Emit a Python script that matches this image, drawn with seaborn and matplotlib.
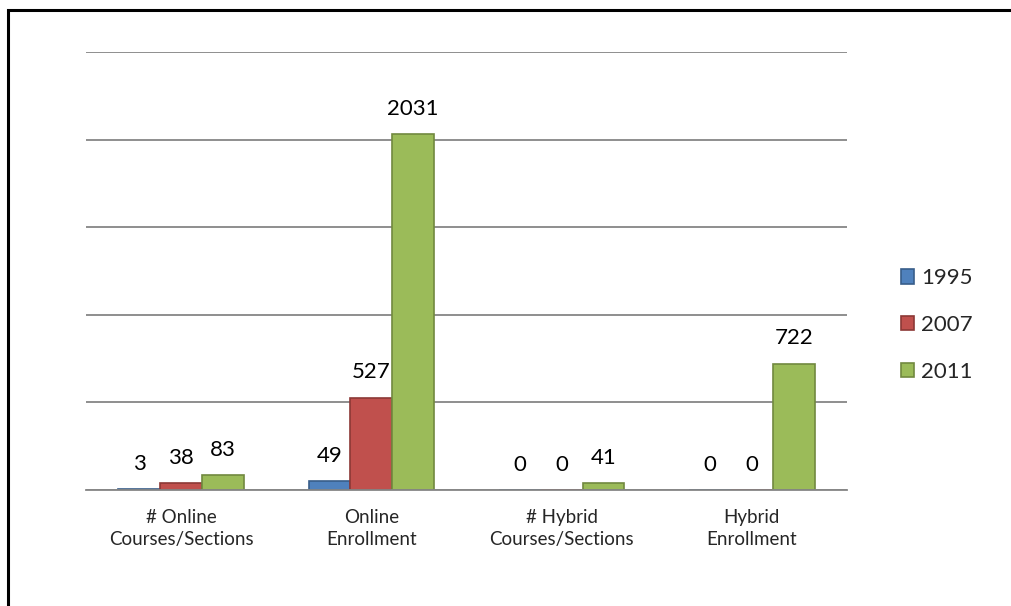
import matplotlib
matplotlib.use("Agg")
import matplotlib.pyplot as plt
import seaborn as sns
import pandas as pd
from matplotlib.patches import Rectangle, Patch

categories = ["# Online\nCourses/Sections", "Online\nEnrollment",
              "# Hybrid\nCourses/Sections", "Hybrid\nEnrollment"]
years = ["1995", "2007", "2011"]
values_1995 = [3, 49, 0, 0]
values_2007 = [38, 527, 0, 0]
values_2011 = [83, 2031, 41, 722]

fills = ["#4F81BD", "#C0504D", "#9BBB59"]
edges = ["#385D8A", "#8C3836", "#71893F"]

rows = []
for year, vals in zip(years, [values_1995, values_2007, values_2011]):
    for cat, v in zip(categories, vals):
        rows.append({"category": cat, "year": year, "value": v})
df = pd.DataFrame(rows)

sns.set_theme(style="white")
plt.rcParams["font.family"] = ["Lato", "DejaVu Sans"]

fig = plt.figure(figsize=(10.11, 6.06), dpi=100)
ax = fig.add_axes([86 / 1011, 1 - 490 / 606, (847 - 86) / 1011, (490 - 52) / 606])

sns.barplot(data=df, x="category", y="value", hue="year", hue_order=years,
            palette=fills, width=0.66, ax=ax, legend=False, saturation=1)

# per-series edge colours and value labels
for container, ec in zip(ax.containers, edges):
    for bar in container:
        bar.set_edgecolor(ec)
        bar.set_linewidth(1.2)
    ax.bar_label(container, labels=[f"{int(b.get_height())}" for b in container],
                 padding=11, fontsize=16, color="black")

ax.set_ylim(0, 2500)
ax.set_xlim(-0.5, 3.5)
ax.set_yticks([0, 500, 1000, 1500, 2000, 2500])
ax.yaxis.grid(True, color="#868686", linewidth=1.3)
ax.set_axisbelow(True)
ax.tick_params(axis="y", left=False, labelleft=False)
ax.tick_params(axis="x", bottom=False, labelsize=13.5, pad=8)
for lbl in ax.get_xticklabels():
    lbl.set_linespacing(1.3)
for s in ["top", "right", "left"]:
    ax.spines[s].set_visible(False)
ax.spines["bottom"].set_color("#868686")
ax.spines["bottom"].set_linewidth(1.3)
ax.set_xlabel("")
ax.set_ylabel("")

handles = [Patch(facecolor=f, edgecolor=e, linewidth=1.2) for f, e in zip(fills, edges)]
fig.legend(handles, years, loc="center left", bbox_to_anchor=(881 / 1011, 1 - 325 / 606),
           frameon=False, fontsize=16, handlelength=0.6, handleheight=0.6,
           handletextpad=0.3, labelspacing=1.2)

# outer frame, open towards the bottom right
fig.patches.append(Rectangle((7.5 / 1011, -0.1), 1.2, 1 - 9.5 / 606 + 0.1,
                             transform=fig.transFigure, fill=False,
                             edgecolor="black", linewidth=2.2))

fig.savefig("out.png", dpi=100)
